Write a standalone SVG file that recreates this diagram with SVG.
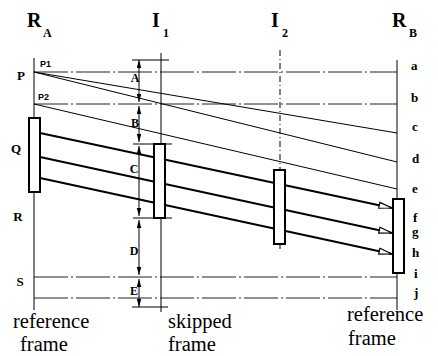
<svg xmlns="http://www.w3.org/2000/svg" width="438" height="356" viewBox="0 0 438 356">
<style>
.thin{stroke:#000;stroke-width:1;fill:none}
.dd{stroke:#222;stroke-width:1;fill:none;stroke-dasharray:34 3 2 3}
.thick{stroke:#000;stroke-width:2;fill:none}
.box{fill:#fff;stroke:#000;stroke-width:2}
.big{font-family:'Liberation Serif','DejaVu Serif',serif;font-weight:bold;font-size:20px}
.sub{font-family:'Liberation Serif','DejaVu Serif',serif;font-weight:bold;font-size:12px}
.lbl{font-family:'Liberation Serif','DejaVu Serif',serif;font-weight:bold;font-size:13px}
.dim{font-family:'Liberation Serif','DejaVu Serif',serif;font-weight:bold;font-size:12px}
.pl{font-family:'Liberation Sans',Arial,sans-serif;font-weight:bold;font-size:9px}
.cap{font-family:'Liberation Serif','DejaVu Serif',serif;font-size:20.5px}
</style>
<defs>
<marker id="dimArrow" viewBox="0 0 6 8" refX="6" refY="3" markerWidth="8" markerHeight="6" markerUnits="userSpaceOnUse" orient="auto-start-reverse" preserveAspectRatio="none">
<path d="M0,0 L6,3 L0,6 z" fill="#000"/>
</marker>
<marker id="openArrow" viewBox="0 0 15 8" refX="14" refY="4" markerWidth="15" markerHeight="8" markerUnits="userSpaceOnUse" orient="auto">
<path d="M1,1 L14,4 L1,7 z" fill="#fff" stroke="#000" stroke-width="1.2"/>
</marker>
</defs>
<rect width="438" height="356" fill="#fff"/>

<g id="connectors">
<line class="dd" x1="34" y1="72" x2="397" y2="72"/>
<line class="dd" x1="34" y1="104" x2="397" y2="104"/>
<line class="dd" x1="34" y1="277" x2="397" y2="277"/>
<line class="dd" x1="34" y1="298" x2="397" y2="298"/>
<line class="thin" x1="34" y1="72" x2="397" y2="133"/>
<line class="thin" x1="34" y1="72" x2="397" y2="162"/>
<line class="thin" x1="34" y1="104" x2="397" y2="189"/>
<line class="thick" x1="40" y1="133" x2="392" y2="208" marker-end="url(#openArrow)"/>
<line class="thick" x1="40" y1="157" x2="392" y2="233" marker-end="url(#openArrow)"/>
<line class="thick" x1="40" y1="178" x2="392" y2="254" marker-end="url(#openArrow)"/>
</g>

<g id="frame-RA">
<line class="thin" x1="34" y1="58" x2="34" y2="310" stroke-width="1.5"/>
<rect class="box" x="29" y="118" width="11" height="74"/>
<text class="big" x="27" y="27">R</text>
<text class="sub" x="43" y="37">A</text>
</g>

<g id="frame-I1">
<line class="thin" x1="161" y1="53" x2="161" y2="312"/>
<rect class="box" x="154" y="144" width="11" height="74"/>
<text class="big" x="152" y="27">I</text>
<text class="sub" x="163" y="37">1</text>
</g>

<g id="frame-I2">
<line class="thin" x1="280" y1="50" x2="280" y2="169" stroke-dasharray="6 3 1 3"/>
<line class="thin" x1="280" y1="244" x2="280" y2="249"/>
<rect class="box" x="274" y="170" width="11" height="74"/>
<text class="big" x="271" y="27">I</text>
<text class="sub" x="282" y="37">2</text>
</g>

<g id="frame-RB">
<line class="thin" x1="397" y1="60" x2="397" y2="310" stroke-width="1.5"/>
<rect class="box" x="393" y="199" width="11" height="74"/>
<text class="big" x="392" y="27">R</text>
<text class="sub" x="409" y="37">B</text>
</g>

<g id="dimensions">
<line class="thin" x1="132" y1="60" x2="169" y2="60"/>
<line class="thin" x1="132" y1="307" x2="168" y2="307"/>
<line class="thin" x1="133" y1="144" x2="172" y2="144"/>
<line class="thin" x1="133" y1="218" x2="172" y2="218"/>
<line class="thin" x1="139" y1="60" x2="139" y2="102" marker-start="url(#dimArrow)" marker-end="url(#dimArrow)"/>
<line class="thin" x1="139" y1="106" x2="139" y2="142" marker-start="url(#dimArrow)" marker-end="url(#dimArrow)"/>
<line class="thin" x1="139" y1="146" x2="139" y2="216" marker-start="url(#dimArrow)" marker-end="url(#dimArrow)"/>
<line class="thin" x1="139" y1="220" x2="139" y2="275" marker-start="url(#dimArrow)" marker-end="url(#dimArrow)"/>
<line class="thin" x1="139" y1="279" x2="139" y2="307" marker-start="url(#dimArrow)" marker-end="url(#dimArrow)"/>
<text class="dim" x="135" y="82" text-anchor="middle">A</text>
<text class="dim" x="135" y="127" text-anchor="middle">B</text>
<text class="dim" x="134" y="173" text-anchor="middle">C</text>
<text class="dim" x="134" y="255" text-anchor="middle">D</text>
<text class="dim" x="134" y="295" text-anchor="middle">E</text>
</g>

<g id="left-labels">
<text class="lbl" x="21" y="80" text-anchor="middle">P</text>
<text class="pl" x="40" y="67">P1</text>
<text class="pl" x="38" y="100">P2</text>
<text class="lbl" x="16" y="153" text-anchor="middle">Q</text>
<text class="lbl" x="18" y="221" text-anchor="middle">R</text>
<text class="lbl" x="20" y="286" text-anchor="middle">S</text>
</g>

<g id="right-labels" class="lbl">
<text x="411" y="70">a</text>
<text x="411" y="102">b</text>
<text x="412" y="131">c</text>
<text x="412" y="163">d</text>
<text x="412" y="193">e</text>
<text x="413" y="222">f</text>
<text x="412" y="236">g</text>
<text x="412" y="257">h</text>
<text x="414" y="278">i</text>
<text x="414" y="297">j</text>
</g>

<g id="captions" class="cap">
<text x="13" y="328">reference</text>
<text x="20" y="351">frame</text>
<text x="168" y="328">skipped</text>
<text x="168" y="351">frame</text>
<text x="347" y="321">reference</text>
<text x="348" y="345">frame</text>
</g>
</svg>
